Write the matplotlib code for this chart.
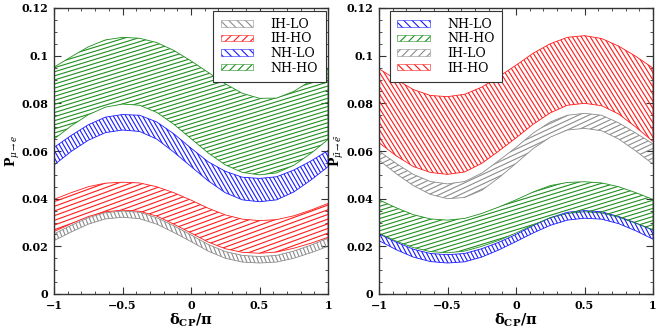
import numpy as np
import matplotlib
matplotlib.use("Agg")
from matplotlib import pyplot as plt
from matplotlib.collections import LineCollection
from matplotlib.transforms import IdentityTransform
from matplotlib.patches import Patch
from matplotlib.ticker import MultipleLocator, FuncFormatter

plt.rcParams['font.family'] = ['DejaVu Serif']
plt.rcParams['mathtext.fontset'] = 'dejavuserif'
plt.rcParams['hatch.linewidth'] = 0.8

delta = [-1, -0.875, -0.75, -0.625, -0.5, -0.375, -0.25, -0.125, 0,
         0.125, 0.25, 0.375, 0.5, 0.625, 0.75, 0.875, 1]

# neutrino channel (left)
nu_ih_lo_lo = [0.0224, 0.0260, 0.0293, 0.0315, 0.0322, 0.0316, 0.0293, 0.0258, 0.0220,
               0.0180, 0.0150, 0.0134, 0.0130, 0.0134, 0.0150, 0.0173, 0.0200]
nu_ih_lo_hi = [0.0252, 0.0288, 0.0320, 0.0341, 0.0348, 0.0343, 0.0320, 0.0286, 0.0248,
               0.0208, 0.0178, 0.0162, 0.0157, 0.0162, 0.0180, 0.0205, 0.0234]
nu_ih_ho_lo = [0.0262, 0.0295, 0.0325, 0.0345, 0.0352, 0.0347, 0.0327, 0.0293, 0.0256,
               0.0218, 0.0190, 0.0175, 0.0171, 0.0176, 0.0192, 0.0213, 0.0238]
nu_ih_ho_hi = [0.0397, 0.0425, 0.0450, 0.0465, 0.0469, 0.0466, 0.0450, 0.0425, 0.0394,
               0.0360, 0.0332, 0.0314, 0.0308, 0.0312, 0.0328, 0.0352, 0.0380]
nu_nh_lo_lo = [0.0541, 0.0598, 0.0645, 0.0677, 0.0688, 0.0682, 0.0650, 0.0595, 0.0535,
               0.0475, 0.0425, 0.0395, 0.0387, 0.0395, 0.0428, 0.0478, 0.0534]
nu_nh_lo_hi = [0.0615, 0.0665, 0.0710, 0.0742, 0.0753, 0.0750, 0.0722, 0.0672, 0.0612,
               0.0555, 0.0515, 0.0490, 0.0485, 0.0492, 0.0520, 0.0558, 0.0602]
nu_nh_ho_lo = [0.0650, 0.0705, 0.0752, 0.0784, 0.0797, 0.0792, 0.0762, 0.0712, 0.0652,
               0.0592, 0.0542, 0.0510, 0.0500, 0.0508, 0.0540, 0.0590, 0.0648]
nu_nh_ho_hi = [0.0952, 0.0995, 0.1037, 0.1066, 0.1077, 0.1073, 0.1055, 0.1022, 0.0978,
               0.0930, 0.0882, 0.0842, 0.0821, 0.0822, 0.0850, 0.0895, 0.0948]

# antineutrino channel (right)
an_nh_lo_lo = [0.0224, 0.0186, 0.0155, 0.0136, 0.0130, 0.0135, 0.0155, 0.0185, 0.0220,
               0.0256, 0.0288, 0.0310, 0.0318, 0.0314, 0.0295, 0.0265, 0.0230]
an_nh_lo_hi = [0.0252, 0.0218, 0.0188, 0.0170, 0.0165, 0.0170, 0.0190, 0.0217, 0.0250,
               0.0287, 0.0320, 0.0343, 0.0350, 0.0345, 0.0325, 0.0298, 0.0268]
an_nh_ho_lo = [0.0255, 0.0222, 0.0195, 0.0178, 0.0173, 0.0180, 0.0200, 0.0225, 0.0256,
               0.0290, 0.0320, 0.0338, 0.0345, 0.0340, 0.0322, 0.0297, 0.0269]
an_nh_ho_hi = [0.0395, 0.0362, 0.0333, 0.0315, 0.0310, 0.0317, 0.0338, 0.0365, 0.0395,
               0.0428, 0.0455, 0.0468, 0.0471, 0.0466, 0.0450, 0.0425, 0.0397]
an_ih_lo_lo = [0.0562, 0.0505, 0.0455, 0.0418, 0.0400, 0.0405, 0.0435, 0.0488, 0.0548,
               0.0610, 0.0658, 0.0688, 0.0695, 0.0685, 0.0650, 0.0600, 0.0545]
an_ih_lo_hi = [0.0600, 0.0548, 0.0502, 0.0472, 0.0462, 0.0472, 0.0507, 0.0560, 0.0615,
               0.0675, 0.0722, 0.0750, 0.0758, 0.0750, 0.0718, 0.0675, 0.0630]
an_ih_ho_lo = [0.0635, 0.0580, 0.0535, 0.0510, 0.0502, 0.0512, 0.0548, 0.0600, 0.0655,
               0.0712, 0.0760, 0.0792, 0.0800, 0.0790, 0.0755, 0.0700, 0.0640]
an_ih_ho_hi = [0.0945, 0.0900, 0.0858, 0.0833, 0.0828, 0.0838, 0.0868, 0.0912, 0.0960,
               0.1010, 0.1050, 0.1077, 0.1084, 0.1072, 0.1040, 0.0997, 0.0948]

GRAY, RED, BLUE, GREEN = '#8c8c8c', '#ff1a1a', '#1a1aff', '#1f8f1f'


def hatch_band(ax, lo, hi, color, angle, gap):
    poly = ax.fill_between(delta, lo, hi, facecolor='none', edgecolor=color, lw=0.6)
    bb = ax.get_window_extent()
    a = np.radians(angle)
    d = np.array([np.cos(a), np.sin(a)])
    n = np.array([-np.sin(a), np.cos(a)])
    corners = np.array([[bb.x0, bb.y0], [bb.x1, bb.y0], [bb.x0, bb.y1], [bb.x1, bb.y1]])
    proj = corners @ n
    c = np.array([bb.x0 + bb.width / 2, bb.y0 + bb.height / 2])
    L = np.hypot(bb.width, bb.height)
    segs = []
    for o in np.arange(proj.min(), proj.max(), gap):
        base = o * n + (c @ d) * d
        segs.append([base - L * d, base + L * d])
    lc = LineCollection(segs, colors=color, linewidths=0.8, transform=IdentityTransform())
    ax.add_collection(lc, autolim=False)
    lc.set_clip_path(poly.get_paths()[0], ax.transData)


def style(ax, ylabel, ylab_x):
    ax.set_xlim(-1, 1)
    ax.set_ylim(0, 0.12)
    ax.xaxis.set_major_locator(MultipleLocator(0.5))
    ax.xaxis.set_minor_locator(MultipleLocator(0.1))
    ax.yaxis.set_major_locator(MultipleLocator(0.02))
    ax.yaxis.set_minor_locator(MultipleLocator(0.005))
    fmt = FuncFormatter(lambda v, p: ('%g' % round(v, 4)).replace('-', '\u2212'))
    ax.xaxis.set_major_formatter(fmt)
    ax.yaxis.set_major_formatter(fmt)
    ax.tick_params(which='both', direction='in', top=True, right=True, color='#333333')
    ax.tick_params(which='major', length=5, labelsize=8, pad=4)
    ax.tick_params(which='minor', length=2.5)
    for lab in ax.get_xticklabels() + ax.get_yticklabels():
        lab.set_fontweight('bold')
    for s in ax.spines.values():
        s.set_color('#333333')
        s.set_linewidth(1.0)
    ax.set_xlabel(r'$\mathbf{\delta_{CP}/\pi}$', fontsize=10.5)
    ax.xaxis.set_label_coords(0.5, -0.062)
    ax.set_ylabel(ylabel, fontsize=9)
    ax.yaxis.set_label_coords(ylab_x, 0.5)


fig = plt.figure(figsize=(6.64, 3.32), dpi=100)
ax1 = fig.add_axes([54 / 664, 38 / 332, 274 / 664, 286 / 332])
ax2 = fig.add_axes([379 / 664, 38 / 332, 274 / 664, 286 / 332])

hatch_band(ax1, nu_ih_lo_lo, nu_ih_lo_hi, GRAY, -68, 3.6)
hatch_band(ax1, nu_ih_ho_lo, nu_ih_ho_hi, RED, 20, 4.4)
hatch_band(ax1, nu_nh_lo_lo, nu_nh_lo_hi, BLUE, -60, 3.6)
hatch_band(ax1, nu_nh_ho_lo, nu_nh_ho_hi, GREEN, 17, 3.9)

hatch_band(ax2, an_nh_lo_lo, an_nh_lo_hi, BLUE, -62, 3.6)
hatch_band(ax2, an_nh_ho_lo, an_nh_ho_hi, GREEN, 17, 3.9)
hatch_band(ax2, an_ih_lo_lo, an_ih_lo_hi, GRAY, 25, 4.4)
hatch_band(ax2, an_ih_ho_lo, an_ih_ho_hi, RED, -58, 3.8)

style(ax1, r'$\mathbf{P}_{\mu\rightarrow e}$', -0.118)
style(ax2, r'$\mathbf{P}_{\bar{\mu}\rightarrow\bar{e}}$', -0.122)


def handles(entries):
    return [Patch(facecolor='none', edgecolor=c, hatch=h, lw=0.4, label=l) for l, c, h in entries]


leg_kw = dict(borderaxespad=0.2, fancybox=False, framealpha=1, edgecolor='#333333',
              fontsize=9, handlelength=2.6, handleheight=0.45, labelspacing=0.12,
              handletextpad=1.4, borderpad=0.6)
leg1 = ax1.legend(handles=handles([('IH-LO', GRAY, '\\\\\\\\'), ('IH-HO', RED, '////'),
                                   ('NH-LO', BLUE, '\\\\\\\\'), ('NH-HO', GREEN, '////')]),
                  loc='upper right', bbox_to_anchor=(1.0, 1.0), **leg_kw)
leg2 = ax2.legend(handles=handles([('NH-LO', BLUE, '\\\\\\\\'), ('NH-HO', GREEN, '////'),
                                   ('IH-LO', GRAY, '////'), ('IH-HO', RED, '\\\\\\\\')]),
                  loc='upper left', bbox_to_anchor=(0.03, 1.0), **leg_kw)
for leg in (leg1, leg2):
    leg.get_frame().set_linewidth(0.8)

fig.savefig('out.png', dpi=100)
